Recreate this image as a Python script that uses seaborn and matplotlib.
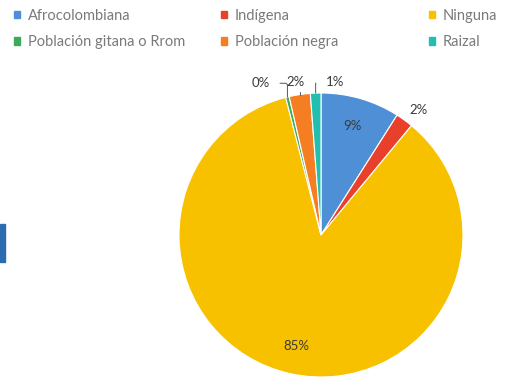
import matplotlib.pyplot as plt
import numpy as np
import seaborn as sns
from matplotlib.patches import Rectangle

categories = [
    "Afrocolombiana",
    "Indígena",
    "Ninguna",
    "Población gitana o Rrom",
    "Población negra",
    "Raizal",
]
shares = [9.0, 2.0, 85.0, 0.4, 2.4, 1.2]
colors = ["#4F8FD6", "#E8402A", "#F8C100", "#3DAA5A", "#F57E22", "#22BFB0"]

sns.set_theme(style="white")
plt.rcParams["font.family"] = ["Lato", "DejaVu Sans"]

W, H = 517, 382
fig = plt.figure(figsize=(W / 100, H / 100), dpi=100)
ax = fig.add_axes([179 / W, 5 / H, 284 / W, 284 / H])

wedges, _ = ax.pie(
    shares,
    colors=colors,
    startangle=90,
    counterclock=False,
    wedgeprops=dict(linewidth=0.8, edgecolor="white"),
)
ax.set_aspect("equal")
ax.set_xlim(-1.0, 1.0)
ax.set_ylim(-1.0, 1.0)

# small slices get labels outside; nudge (deg, ccw) spreads crowded ones
nudge = {1: -2.0, 3: 8.0, 4: 1.0, 5: -7.5}
radius_out = {1: 1.12, 3: 1.15, 4: 1.09, 5: 1.08}
leader = {3, 4, 5}
for i, (w, v) in enumerate(zip(wedges, shares)):
    mid = np.deg2rad((w.theta1 + w.theta2) / 2)
    label = f"{v:.0f}%"
    if v >= 5:
        ax.text(0.8 * np.cos(mid), 0.8 * np.sin(mid), label, ha="center",
                va="center", fontsize=9.5, color="#3a3a3a")
        continue
    ang = mid + np.deg2rad(nudge[i])
    r = radius_out[i]
    tx, ty = r * np.cos(ang), r * np.sin(ang)
    if i in leader:
        ax.annotate(label, xy=(np.cos(mid), np.sin(mid)), xytext=(tx, ty),
                    ha="center", va="center", fontsize=9.5, color="#3a3a3a",
                    arrowprops=dict(arrowstyle="-", color="#555555", lw=0.7,
                                    shrinkA=5, shrinkB=0,
                                    connectionstyle="angle,angleA=0,angleB=90,rad=2"))
    else:
        ax.text(tx, ty, label, ha="center", va="center", fontsize=9.5,
                color="#3a3a3a")

# legend laid out row by row in three columns
col_x = [8, 215, 423]
handles = [plt.Rectangle((0, 0), 1, 1, color=c) for c in colors]
for col in range(3):
    idx = [col, col + 3]
    leg = fig.legend([handles[k] for k in idx], [categories[k] for k in idx],
                     loc="upper left",
                     bbox_to_anchor=(col_x[col] / W, 1.0 - 3 / H),
                     frameon=False, fontsize=10.5, handlelength=0.42,
                     handleheight=0.42, handletextpad=0.55, labelspacing=0.85,
                     borderaxespad=0.0)
    for t in leg.get_texts():
        t.set_color("#7a7a7a")

fig.patches.append(Rectangle((0.0, 120 / H), 5 / W, 38 / H,
                             transform=fig.transFigure, color="#2B6CB0"))

fig.savefig("out.png", dpi=100)
